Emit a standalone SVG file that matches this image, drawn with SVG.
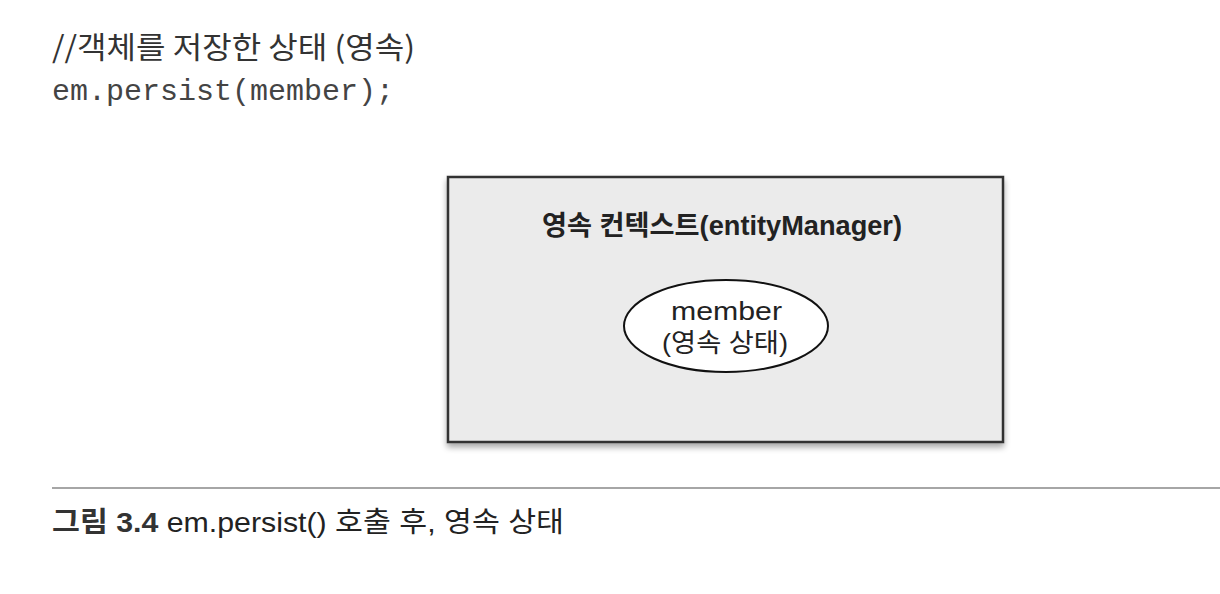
<svg xmlns="http://www.w3.org/2000/svg" width="1220" height="594" viewBox="0 0 1220 594">
<style>
.k{font-family:"Noto Sans CJK KR","Liberation Sans",sans-serif;fill:#333}
.m{font-family:"Liberation Mono","Noto Sans CJK KR",monospace;fill:#444}
.t{font-family:"Liberation Sans","Noto Sans CJK KR",sans-serif;fill:#222}
</style>
<defs>
<filter id="sh" x="-5%" y="-5%" width="110%" height="115%">
<feGaussianBlur in="SourceAlpha" stdDeviation="3"/>
<feOffset dx="0" dy="4"/>
<feComponentTransfer><feFuncA type="linear" slope="0.35"/></feComponentTransfer>
<feMerge><feMergeNode/><feMergeNode in="SourceGraphic"/></feMerge>
</filter>
</defs>
<rect width="1220" height="594" fill="#fff"/>
<text class="k" x="52" y="58" font-size="30" textLength="363" lengthAdjust="spacingAndGlyphs">//객체를 저장한 상태 (영속)</text>
<text class="m" x="52" y="100" font-size="30">em.persist(member);</text>
<g id="context">
<rect x="448" y="177" width="555" height="265" fill="#ebebeb" stroke="#333" stroke-width="2.5" filter="url(#sh)"/>
<text class="t" x="542" y="235" font-size="27" font-weight="bold" textLength="360" lengthAdjust="spacingAndGlyphs">영속 컨텍스트(entityManager)</text>
</g>
<g id="member">
<ellipse cx="726" cy="326" rx="102" ry="46" fill="#fff" stroke="#111" stroke-width="2"/>
<text class="t" x="671" y="320" font-size="26" fill="#333" textLength="111" lengthAdjust="spacingAndGlyphs">member</text>
<text class="t" x="662" y="352" font-size="26" fill="#333" textLength="126" lengthAdjust="spacingAndGlyphs">(영속 상태)</text>
</g>
<g id="connectors"/>
<line x1="52" y1="488" x2="1220" y2="488" stroke="#888" stroke-width="1.5"/>
<text class="t" x="52" y="532" font-size="28" fill="#444" textLength="512" lengthAdjust="spacingAndGlyphs"><tspan font-weight="bold" fill="#333">그림 3.4</tspan> em.persist() 호출 후, 영속 상태</text>
</svg>
